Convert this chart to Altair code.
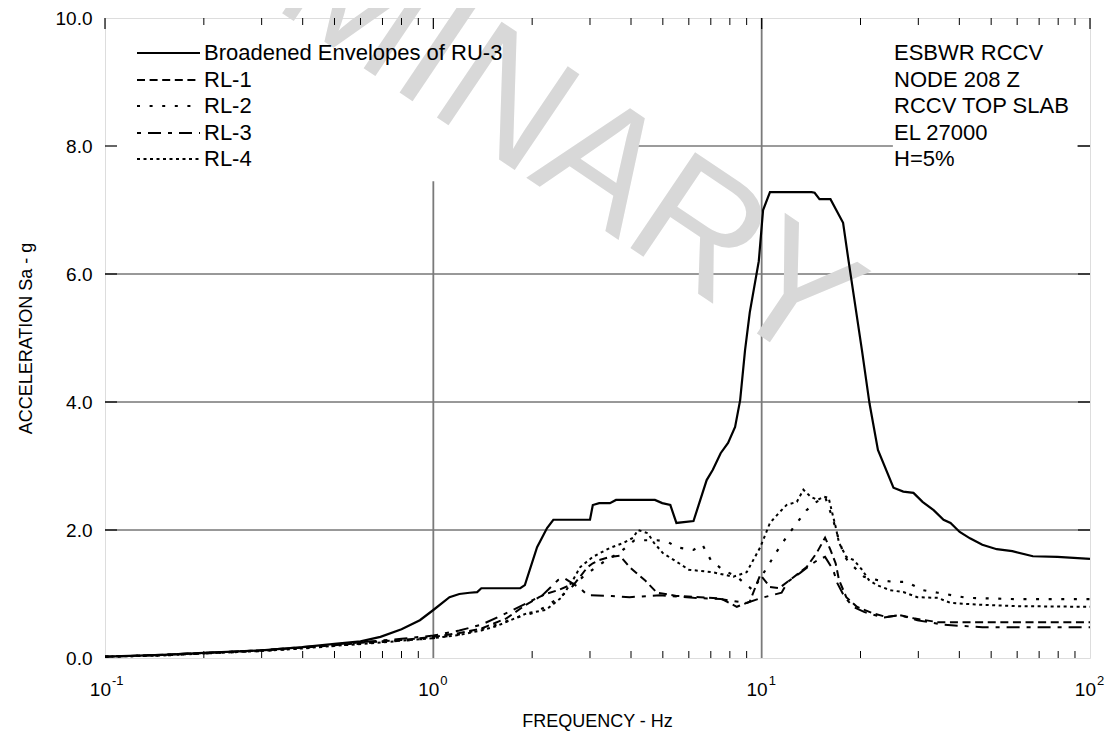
import altair as alt
import pandas as pd

# ---------------- data ----------------
ru3_f = [0.1, 0.15, 0.2, 0.3, 0.4, 0.5, 0.6, 0.69, 0.8, 0.91, 1.0, 1.12, 1.2, 1.29, 1.36, 1.40,
         1.84, 1.9, 2.07, 2.22, 2.32, 3.0, 3.06, 3.2, 3.45, 3.6, 4.73, 4.98, 5.27, 5.5, 6.2,
         6.8, 7.1, 7.5, 7.9, 8.3, 8.6, 8.9, 9.2, 9.8, 10.1, 10.6, 14.2, 14.5, 15.0, 16.2, 17.7,
         18.4, 20.2, 21.3, 22.6, 25.2, 27.0, 29.0, 30.9, 33.4, 35.8, 37.6, 40.1, 43.1, 47.0,
         52.0, 58.0, 67.0, 79.6, 100]
ru3_v = [0.02, 0.05, 0.08, 0.12, 0.17, 0.22, 0.26, 0.33, 0.45, 0.59, 0.75, 0.95, 1.0, 1.02, 1.03, 1.09,
         1.09, 1.14, 1.73, 2.03, 2.16, 2.16, 2.39, 2.42, 2.42, 2.47, 2.47, 2.42, 2.39, 2.11, 2.14,
         2.78, 2.94, 3.2, 3.36, 3.61, 4.03, 4.81, 5.4, 6.2, 7.0, 7.28, 7.28, 7.27, 7.17, 7.17, 6.8,
         6.2, 4.81, 3.98, 3.25, 2.66, 2.6, 2.58, 2.44, 2.31, 2.16, 2.11, 1.97, 1.87, 1.77,
         1.70, 1.67, 1.59, 1.58, 1.55]

rl1_f = [0.1, 0.15, 0.2, 0.3, 0.4, 0.5, 0.65, 0.8, 1.0, 1.2, 1.4, 1.67, 1.9, 2.1, 2.2, 2.4, 2.7,
         2.95, 3.06, 3.2, 3.45, 3.7, 3.96, 4.4, 4.8, 5.5, 6.5, 7.5, 8.4, 9.2, 9.9, 10.6, 11.3,
         12.2, 13.7, 14.7, 15.6, 16.2, 16.8, 17.2, 18.1, 19.5, 21.8, 24.0, 26.3, 29.0, 34.4, 47.0, 100]
rl1_v = [0.02, 0.05, 0.08, 0.12, 0.16, 0.2, 0.25, 0.28, 0.33, 0.39, 0.46, 0.62, 0.82, 0.95, 1.0, 1.06, 1.17,
         1.42, 1.48, 1.53, 1.58, 1.6, 1.42, 1.22, 1.02, 0.97, 0.95, 0.93, 0.8, 0.88, 1.3, 1.11, 1.09,
         1.22, 1.42, 1.64, 1.88, 1.69, 1.48, 1.22, 0.95, 0.80, 0.70, 0.64, 0.67, 0.62, 0.56, 0.56, 0.56]

rl2_f = [0.1, 0.15, 0.2, 0.3, 0.4, 0.5, 0.65, 0.8, 1.0, 1.2, 1.4, 1.56, 1.84, 2.0, 2.2, 2.5, 2.9,
         3.3, 3.7, 4.1, 4.8, 5.2, 5.5, 6.2, 6.6, 7.0, 7.6, 8.4, 9.4, 10.4, 11.1, 11.9, 12.8, 13.7,
         14.7, 15.6, 16.5, 17.2, 17.9, 18.6, 20.5, 22.4, 25.2, 27.6, 31.0, 34.4, 42.2, 59.5, 100]
rl2_v = [0.02, 0.04, 0.07, 0.11, 0.15, 0.19, 0.24, 0.27, 0.31, 0.37, 0.45, 0.52, 0.65, 0.7, 0.8, 1.0, 1.3,
         1.5, 1.65, 1.84, 1.84, 1.81, 1.73, 1.69, 1.77, 1.53, 1.38, 1.27, 1.06, 1.42, 1.66, 1.89, 2.11, 2.31,
         2.44, 2.52, 2.16, 1.84, 1.58, 1.48, 1.27, 1.22, 1.19, 1.19, 1.06, 1.02, 0.94, 0.92, 0.92]

rl3_f = [0.1, 0.15, 0.2, 0.3, 0.4, 0.5, 0.65, 0.8, 1.0, 1.2, 1.4, 1.7, 1.93, 2.15, 2.4, 2.5, 2.8,
         2.95, 3.5, 3.96, 4.9, 6.2, 7.5, 9.0, 10.0, 11.5, 12.0, 13.1, 13.8, 14.8, 15.6, 16.5, 17.0,
         17.9, 19.0, 20.5, 23.5, 26.3, 29.8, 35.8, 47.0, 100]
rl3_v = [0.02, 0.05, 0.08, 0.12, 0.17, 0.21, 0.26, 0.3, 0.35, 0.43, 0.52, 0.72, 0.86, 0.98, 1.22, 1.25, 1.09,
         0.98, 0.97, 0.95, 0.98, 0.94, 0.92, 0.86, 0.94, 1.02, 1.19, 1.33, 1.42, 1.53, 1.58, 1.38, 1.17,
         0.95, 0.80, 0.72, 0.63, 0.67, 0.59, 0.52, 0.48, 0.48]

rl4_f = [0.1, 0.15, 0.2, 0.3, 0.4, 0.5, 0.65, 0.8, 1.0, 1.2, 1.4, 1.56, 1.93, 2.2, 2.45, 2.65, 2.8,
         3.06, 3.45, 3.8, 4.06, 4.2, 4.5, 4.7, 5.0, 5.6, 6.0, 7.1, 8.2, 9.0, 9.9, 10.6, 11.3, 11.9,
         12.8, 13.4, 14.1, 14.8, 15.5, 16.0, 16.4, 16.8, 17.2, 18.1, 19.1, 20.2, 21.2, 22.4, 24.6,
         27.0, 29.8, 34.4, 37.6, 47.0, 59.5, 100]
rl4_v = [0.02, 0.04, 0.07, 0.11, 0.15, 0.19, 0.23, 0.27, 0.31, 0.36, 0.43, 0.5, 0.7, 0.75, 0.94, 1.2, 1.42,
         1.58, 1.72, 1.80, 1.88, 2.0, 1.95, 1.8, 1.64, 1.48, 1.38, 1.34, 1.27, 1.34, 1.73, 2.11, 2.27, 2.39,
         2.44, 2.63, 2.52, 2.47, 2.52, 2.5, 2.27, 2.05, 1.8, 1.58, 1.53, 1.38, 1.22, 1.14, 1.06,
         1.03, 0.95, 0.94, 0.86, 0.83, 0.81, 0.8]

legend_labels = ["Broadened Envelopes of RU-3", "RL-1", "RL-2", "RL-3", "RL-4"]
info_lines = ["ESBWR RCCV", "NODE 208 Z", "RCCV TOP SLAB", "EL 27000", "H=5%"]
y_ticks = [0, 2, 4, 6, 8, 10]
decade_ticks = [0.1, 1, 10, 100]
decade_exp = ["-1", "0", "1", "2"]
minor_ticks = [0.2, 0.3, 0.4, 0.5, 0.6, 0.7, 0.8, 0.9,
               2, 3, 4, 5, 6, 7, 8, 9,
               20, 30, 40, 50, 60, 70, 80, 90]

# ---------------- styling ----------------
W, H = 985, 640
FONT = "Liberation Sans"
xs = alt.Scale(type="log", domain=[0.1, 100])
ys = alt.Scale(domain=[0, 10])

series = [
    (ru3_f, ru3_v, None, 2.2),
    (rl1_f, rl1_v, [8, 4.6], 2.0),
    (rl2_f, rl2_v, [3, 9.6], 2.2),
    (rl3_f, rl3_v, [4, 7, 13, 7], 2.0),
    (rl4_f, rl4_v, [3, 3.5], 2.0),
]

yaxis = alt.Axis(values=y_ticks, format=".1f", labelFont=FONT, labelFontSize=19, labelColor="black",
                 labelPadding=13, ticks=False, domain=False, grid=False,
                 title="ACCELERATION Sa - g", titleFont=FONT, titleFontSize=18, titleFontWeight="normal",
                 titleColor="black", titleX=-79, titleY=H / 2, titleAngle=-90, titleAlign="center",
                 titleBaseline="middle")

layers = []

# gridlines (first layer carries the y axis)
hgrid = alt.Chart(pd.DataFrame({"y": [2, 4, 6]})).mark_rule(color="#333333", strokeWidth=1).encode(
    y=alt.Y("y:Q", scale=ys, axis=yaxis), x=alt.value(0), x2=alt.value(W))
layers.append(hgrid)
g8 = alt.Chart(pd.DataFrame({"a": [3.92, 91.4], "b": [25.1, 100], "y": [8, 8]})).mark_rule(
    color="#7a7a7a", strokeWidth=1.5).encode(
    x=alt.X("a:Q", scale=xs, axis=None), x2="b:Q", y=alt.Y("y:Q", scale=ys))
layers.append(g8)
vgrid = alt.Chart(pd.DataFrame({"f": [1, 10], "top": [7.45, 10], "bot": [0, 0]})).mark_rule(
    color="#7a7a7a", strokeWidth=1.8).encode(
    x=alt.X("f:Q", scale=xs, axis=None), y=alt.Y("top:Q", scale=ys), y2="bot:Q")
layers.append(vgrid)

# watermark
wm = alt.Chart(pd.DataFrame({"t": ["PRELIMINARY"]})).mark_text(
    angle=34, fontSize=168, font=FONT, color="#d8d8d8", align="center", baseline="middle").encode(
    text="t:N", x=alt.value(262), y=alt.value(-8))
layers.append(wm)

# ticks
tk_minor = pd.DataFrame({"f": minor_ticks})
tk_major = pd.DataFrame({"f": decade_ticks})
layers.append(alt.Chart(tk_minor).mark_rule(color="black", strokeWidth=1).encode(
    x=alt.X("f:Q", scale=xs, axis=None), y=alt.value(H), y2=alt.value(H - 7)))
layers.append(alt.Chart(tk_minor).mark_rule(color="black", strokeWidth=1).encode(
    x=alt.X("f:Q", scale=xs, axis=None), y=alt.value(0), y2=alt.value(7)))
layers.append(alt.Chart(tk_major).mark_rule(color="black", strokeWidth=1.2).encode(
    x=alt.X("f:Q", scale=xs, axis=None), y=alt.value(0), y2=alt.value(11)))
tk_y = pd.DataFrame({"y": y_ticks[1:-1]})
layers.append(alt.Chart(tk_y).mark_rule(color="black", strokeWidth=1.2).encode(
    y=alt.Y("y:Q", scale=ys), x=alt.value(0), x2=alt.value(12)))
layers.append(alt.Chart(tk_y).mark_rule(color="black", strokeWidth=1.2).encode(
    y=alt.Y("y:Q", scale=ys), x=alt.value(W - 12), x2=alt.value(W)))

# data lines
for i, (fq, vv, dash, sw) in enumerate(series):
    df = pd.DataFrame({"f": fq, "v": vv})
    kw = dict(color="black", strokeWidth=sw, clip=True)
    if dash:
        kw["strokeDash"] = dash
    layers.append(alt.Chart(df).mark_line(**kw).encode(
        x=alt.X("f:Q", scale=xs, axis=None),
        y=alt.Y("v:Q", scale=ys)))

# legend (manual)
row_y = [35, 62, 88, 115, 141]
for i, lab in enumerate(legend_labels):
    dash = series[i][2]
    kw = dict(color="black", strokeWidth=2)
    if dash:
        kw["strokeDash"] = dash
    layers.append(alt.Chart(pd.DataFrame({"k": [lab]})).mark_rule(**kw).encode(
        x=alt.value(32), x2=alt.value(95), y=alt.value(row_y[i])))
    layers.append(alt.Chart(pd.DataFrame({"k": [lab]})).mark_text(
        font=FONT, fontSize=22, align="left", baseline="middle", color="black").encode(
        text="k:N", x=alt.value(99), y=alt.value(row_y[i])))
    layers.append(alt.Chart(pd.DataFrame({"k": [info_lines[i]]})).mark_text(
        font=FONT, fontSize=22, align="left", baseline="middle", color="black").encode(
        text="k:N", x=alt.value(789), y=alt.value(row_y[i])))

# x tick labels 10^n
xl = pd.DataFrame({"f": decade_ticks, "b": ["10"] * 4, "e": decade_exp})
layers.append(alt.Chart(xl).mark_text(font=FONT, fontSize=19, align="right", baseline="middle",
                                      dx=6, color="black").encode(
    x=alt.X("f:Q", scale=xs, axis=None), y=alt.value(H + 32), text="b:N"))
layers.append(alt.Chart(xl).mark_text(font=FONT, fontSize=13, align="left", baseline="middle",
                                      dx=7, color="black").encode(
    x=alt.X("f:Q", scale=xs, axis=None), y=alt.value(H + 23), text="e:N"))
layers.append(alt.Chart(pd.DataFrame({"t": ["FREQUENCY - Hz"]})).mark_text(
    font=FONT, fontSize=18, align="center", baseline="middle", color="black").encode(
    text="t:N", x=alt.value(W / 2), y=alt.value(H + 64)))

chart = alt.layer(*layers).properties(
    width=W, height=H,
    padding={"left": 97, "top": 10, "right": 15, "bottom": 78},
    autosize=alt.AutoSizeParams(type="none"),
).configure_view(stroke="black", strokeWidth=1.5).configure(background="white")

chart.save("out.html", embed_options={"renderer": "svg", "actions": False})
